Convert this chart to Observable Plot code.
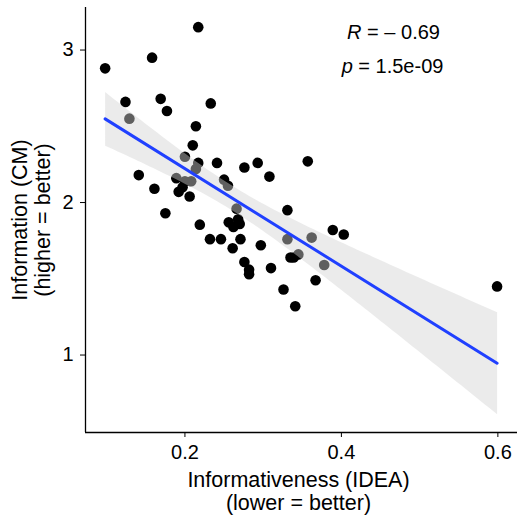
<!DOCTYPE html>
<html><head><meta charset="utf-8">
<script src="https://cdn.jsdelivr.net/npm/d3@7"></script>
<script src="https://cdn.jsdelivr.net/npm/@observablehq/plot@0.6"></script>
<style>body{margin:0;background:#fff;}</style>
</head><body><div id="chart"></div>
<script>
const informativeness = [0.098,0.158,0.217,0.124,0.169,0.177,0.233,0.129,0.214,0.210,0.200,0.217,0.241,0.293,0.276,0.214,0.141,0.189,0.200,0.208,0.250,0.255,0.161,0.192,0.197,0.206,0.266,0.175,0.268,0.256,0.270,0.219,0.262,0.271,0.232,0.246,0.261,0.297,0.276,0.282,0.282,0.357,0.308,0.331,0.389,0.403,0.331,0.362,0.345,0.335,0.339,0.378,0.310,0.367,0.326,0.599,0.341];
const information = [2.88,2.95,3.15,2.66,2.68,2.60,2.65,2.55,2.50,2.375,2.30,2.26,2.26,2.26,2.23,2.22,2.18,2.16,2.14,2.14,2.15,2.11,2.09,2.07,2.10,2.04,1.96,1.93,1.89,1.87,1.86,1.855,1.84,1.76,1.76,1.76,1.70,1.72,1.61,1.56,1.53,2.27,2.17,1.95,1.82,1.79,1.76,1.77,1.66,1.64,1.64,1.59,1.57,1.49,1.43,1.45,1.32];
const xTicks = [0.2, 0.4, 0.6];
const yTicks = [1, 2, 3];
const xDomain = [0.0729, 0.6251];
const yDomain = [0.492, 3.279];
const xTitle = ["Informativeness (IDEA)", "(lower = better)"];
const yTitle = ["Information (CM)", "(higher = better)"];
const statLabels = ["R = – 0.69", "p = 1.5e-09"];

const data = informativeness.map((x, i) => ({x, y: information[i]}));
const font = "'Liberation Sans', Arial, Helvetica, sans-serif";

const chart = Plot.plot({
  width: 518, height: 525,
  marginLeft: 85, marginRight: 1, marginTop: 7, marginBottom: 93,
  style: {fontFamily: font, fontSize: "20px", color: "black", background: "white", overflow: "visible"},
  x: {domain: xDomain, ticks: xTicks, tickSize: 5, tickPadding: 7, label: null, tickFormat: d => String(d)},
  y: {domain: yDomain, ticks: yTicks, tickSize: 5, tickPadding: 7, label: null, tickFormat: d => String(d)},
  marks: [
    Plot.ruleX([xDomain[0]], {stroke: "black", strokeWidth: 1.3}),
    Plot.ruleY([yDomain[0]], {stroke: "black", strokeWidth: 1.3}),
    Plot.dot(data, {x: "x", y: "y", r: 5.3, fill: "black"}),
    Plot.linearRegressionY(data, {x: "x", y: "y", stroke: "#2040ff", strokeWidth: 3, fill: "#d3d3d3", fillOpacity: 0.45}),
    Plot.text([xTitle[0]], {frameAnchor: "bottom", lineAnchor: "middle", textAnchor: "middle", fontSize: 21.5, dx: -3, dy: 48}),
    Plot.text([xTitle[1]], {frameAnchor: "bottom", lineAnchor: "middle", textAnchor: "middle", fontSize: 21.5, dx: -3, dy: 71}),
    Plot.text([yTitle[0]], {frameAnchor: "left", lineAnchor: "middle", textAnchor: "middle", rotate: -90, fontSize: 21.5, dx: -65}),
    Plot.text([yTitle[1]], {frameAnchor: "left", lineAnchor: "middle", textAnchor: "middle", rotate: -90, fontSize: 21.5, dx: -42}),
    Plot.text([statLabels[0]], {frameAnchor: "top-right", lineAnchor: "middle", textAnchor: "middle", fontSize: 20, dx: -124, dy: 24.6}),
    Plot.text([statLabels[1]], {frameAnchor: "top-right", lineAnchor: "middle", textAnchor: "middle", fontSize: 20, dx: -125, dy: 59.3})
  ]
});

const svgns = "http://www.w3.org/2000/svg";
chart.querySelectorAll("text").forEach(t => {
  const s = t.textContent;
  if (statLabels.includes(s)) {
    t.textContent = "";
    const ts = document.createElementNS(svgns, "tspan");
    ts.setAttribute("font-style", "italic");
    ts.textContent = s[0];
    t.appendChild(ts);
    t.appendChild(document.createTextNode(s.slice(1)));
  }
});
document.getElementById("chart").appendChild(chart);
</script>
</body></html>
